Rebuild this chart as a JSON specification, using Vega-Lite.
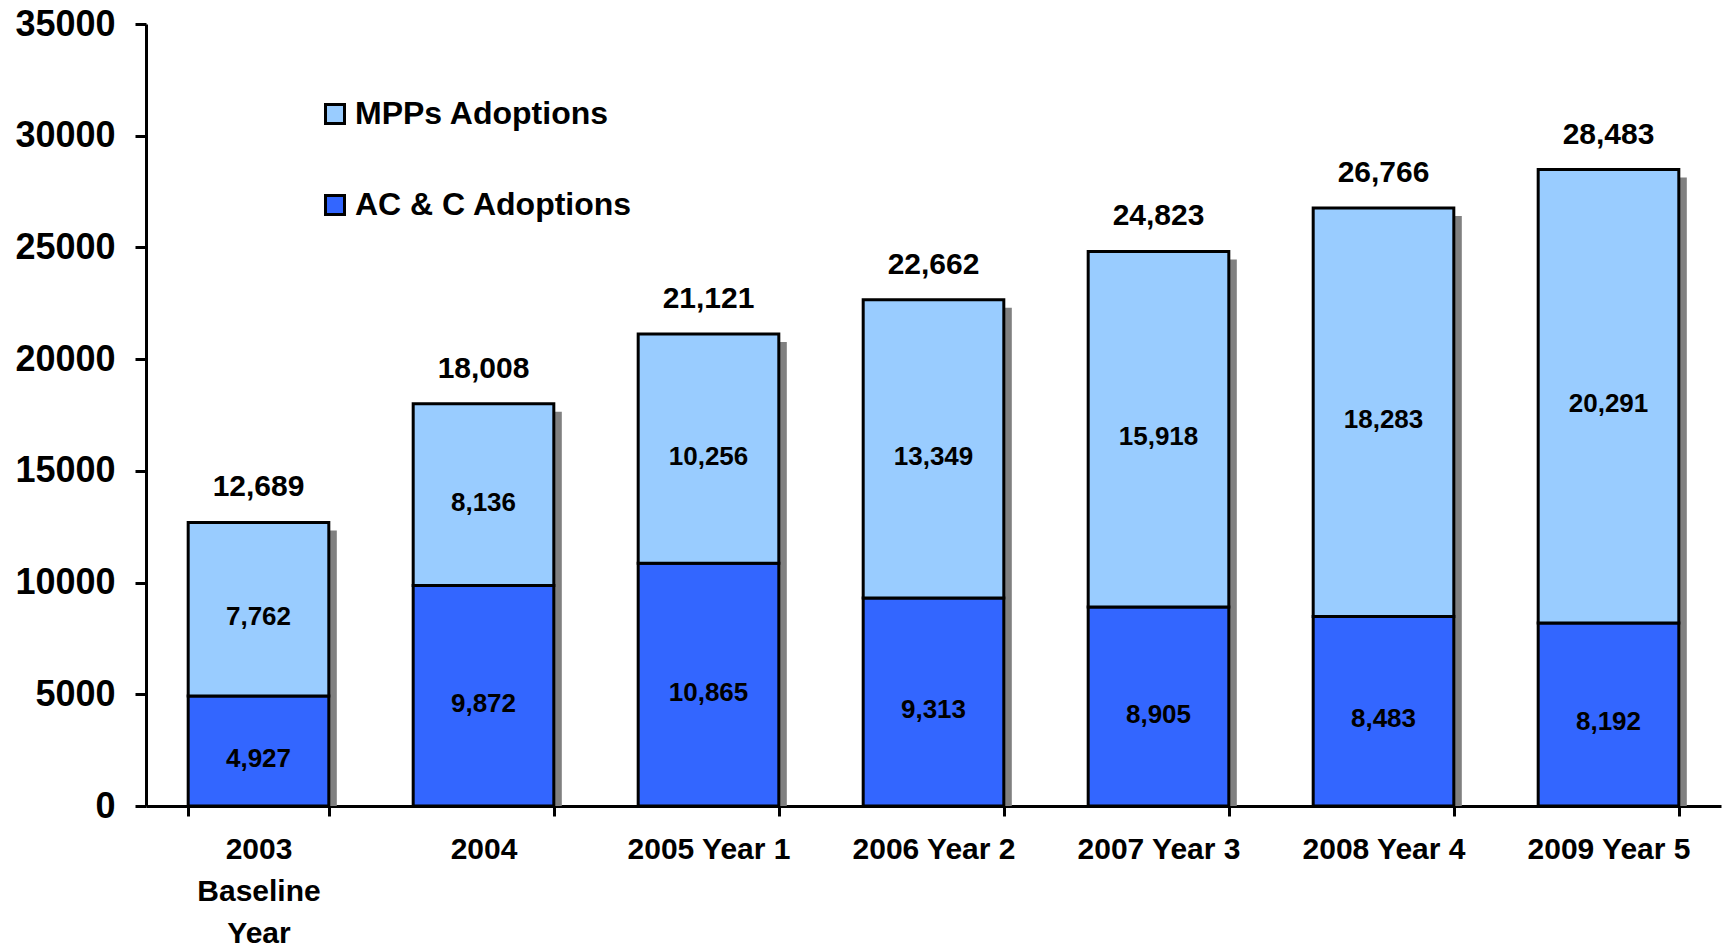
{
  "$schema": "https://vega.github.io/schema/vega-lite/v6.json",
  "width": 1575,
  "height": 782,
  "autosize": {"type": "none"},
  "padding": {"left": 146, "top": 24, "right": 1, "bottom": 141},
  "background": "white",
  "config": {"view": {"stroke": null}, "font": "Liberation Sans"},
  "data": {
    "values": [
      {"year": "2003 Baseline Year", "series": "AC & C Adoptions", "value": 4927},
      {"year": "2003 Baseline Year", "series": "MPPs Adoptions", "value": 7762},
      {"year": "2004", "series": "AC & C Adoptions", "value": 9872},
      {"year": "2004", "series": "MPPs Adoptions", "value": 8136},
      {"year": "2005 Year 1", "series": "AC & C Adoptions", "value": 10865},
      {"year": "2005 Year 1", "series": "MPPs Adoptions", "value": 10256},
      {"year": "2006 Year 2", "series": "AC & C Adoptions", "value": 9313},
      {"year": "2006 Year 2", "series": "MPPs Adoptions", "value": 13349},
      {"year": "2007 Year 3", "series": "AC & C Adoptions", "value": 8905},
      {"year": "2007 Year 3", "series": "MPPs Adoptions", "value": 15918},
      {"year": "2008 Year 4", "series": "AC & C Adoptions", "value": 8483},
      {"year": "2008 Year 4", "series": "MPPs Adoptions", "value": 18283},
      {"year": "2009 Year 5", "series": "AC & C Adoptions", "value": 8192},
      {"year": "2009 Year 5", "series": "MPPs Adoptions", "value": 20291}
    ]
  },
  "encoding": {
    "x": {
      "field": "year",
      "type": "nominal",
      "sort": null,
      "scale": {"paddingInner": 0.375, "paddingOuter": 0.1875},
      "axis": {
        "title": null,
        "labelAngle": 0,
        "domainColor": "black",
        "domainWidth": 3,
        "tickColor": "black",
        "tickWidth": 3,
        "tickSize": 10,
        "tickBand": "extent",
        "labelFont": "Liberation Sans",
        "labelFontSize": 30,
        "labelFontWeight": "bold",
        "labelColor": "black",
        "labelPadding": 18,
        "labelLineHeight": 42,
        "labelLimit": 0,
        "labelExpr": "datum.label == '2003 Baseline Year' ? ['2003', 'Baseline', 'Year'] : datum.label"
      }
    }
  },
  "layer": [
    {
      "mark": {"type": "bar", "color": "#808080", "xOffset": 8, "yOffset": 8},
      "encoding": {
        "y": {
          "aggregate": "sum",
          "field": "value",
          "type": "quantitative",
          "scale": {"domain": [0, 35000]},
          "axis": {
            "title": null,
            "values": [0, 5000, 10000, 15000, 20000, 25000, 30000, 35000],
            "format": "d",
            "grid": false,
            "domainColor": "black",
            "domainWidth": 3,
            "tickColor": "black",
            "tickWidth": 3,
            "tickSize": 11,
            "labelFont": "Liberation Sans",
            "labelFontSize": 36,
            "labelFontWeight": "bold",
            "labelColor": "black",
            "labelPadding": 20
          }
        }
      }
    },
    {
      "mark": {"type": "bar", "stroke": "black", "strokeWidth": 3},
      "encoding": {
        "y": {"field": "value", "type": "quantitative", "stack": "zero"},
        "color": {
          "field": "series",
          "type": "nominal",
          "scale": {"domain": ["MPPs Adoptions", "AC & C Adoptions"], "range": ["#99CCFF", "#3366FF"]},
          "legend": {
            "title": null,
            "orient": "none",
            "legendX": 173,
            "legendY": 74,
            "symbolType": "square",
            "symbolSize": 361,
            "symbolStrokeColor": "black",
            "symbolStrokeWidth": 3,
            "symbolOpacity": 1,
            "labelFont": "Liberation Sans",
            "labelFontSize": 32,
            "labelFontWeight": "bold",
            "labelColor": "black",
            "labelOffset": 4,
            "labelLimit": 0,
            "rowPadding": 59
          }
        },
        "order": {"field": "series", "sort": "ascending"}
      }
    },
    {
      "transform": [
        {"stack": "value", "groupby": ["year"], "sort": [{"field": "series", "order": "ascending"}], "as": ["v0", "v1"]},
        {"fold": ["v0", "v1"], "as": ["edge", "edgeValue"]},
        {"aggregate": [{"op": "mean", "field": "edgeValue", "as": "mid"}], "groupby": ["year", "series", "value"]}
      ],
      "mark": {"type": "text", "font": "Liberation Sans", "fontWeight": "bold", "fontSize": 26, "color": "black", "baseline": "middle", "dy": 8},
      "encoding": {
        "y": {"field": "mid", "type": "quantitative"},
        "text": {"field": "value", "type": "quantitative", "format": ","}
      }
    },
    {
      "mark": {"type": "text", "fontSize": 30, "fontWeight": "bold", "color": "black", "baseline": "alphabetic", "dy": -26},
      "encoding": {
        "y": {"aggregate": "sum", "field": "value", "type": "quantitative"},
        "text": {"aggregate": "sum", "field": "value", "type": "quantitative", "format": ","}
      }
    }
  ]
}
